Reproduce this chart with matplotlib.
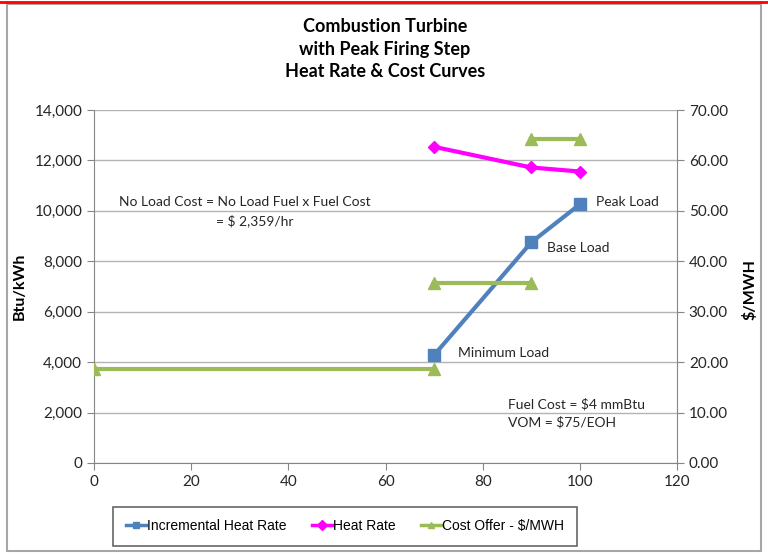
import numpy as np
import matplotlib
matplotlib.use('Agg')
import matplotlib.pyplot as plt
from matplotlib.patches import Rectangle
from matplotlib.lines import Line2D
from matplotlib.ticker import FuncFormatter

# load (MW %) and values
load_hr = [70, 90, 100]
incr_heat_rate = [4280, 8750, 10260]      # Btu/kWh, left axis
heat_rate_cost = [62.7, 58.6, 57.8]       # right axis

cost_x = [0, 70, np.nan, 70, 90, np.nan, 90, 100]
cost_offer = [18.6, 18.6, np.nan, 35.6, 35.6, np.nan, 64.2, 64.2]  # $/MWH

x_ticks = [0, 20, 40, 60, 80, 100, 120]
left_ticks = [0, 2000, 4000, 6000, 8000, 10000, 12000, 14000]
right_ticks = [0, 10, 20, 30, 40, 50, 60, 70]

plt.rcParams['font.family'] = ['Lato', 'DejaVu Sans']

W, H = 768, 556
fig = plt.figure(figsize=(W / 100, H / 100), dpi=100)

# outer frame like the spreadsheet chart area
fig.add_artist(Rectangle((7 / W, 1 - 551 / H), 754 / W, 547 / H, transform=fig.transFigure,
                         fill=False, edgecolor='#a6a6a6', lw=1.5))
fig.add_artist(Line2D([0, 1], [1 - 2 / H, 1 - 2 / H], transform=fig.transFigure, color='red', lw=2))

ax = fig.add_axes([94 / W, 1 - 463 / H, 583 / W, 353 / H])
ax2 = ax.twinx()

grey = '#868686'
for a in (ax, ax2):
    for s in a.spines.values():
        s.set_color(grey)
    a.spines['top'].set_visible(False)
    a.tick_params(colors=grey, labelcolor='#262626', labelsize=11, length=5)
ax.spines['right'].set_visible(False)
ax2.spines['left'].set_visible(False)
ax2.spines['bottom'].set_visible(False)

ax.set_xlim(0, 120)
ax.set_ylim(0, 14000)
ax2.set_ylim(0, 70)
ax.set_xticks(x_ticks)
ax.set_yticks(left_ticks)
ax2.set_yticks(right_ticks)
ax.yaxis.set_major_formatter(FuncFormatter(lambda v, p: f'{v:,.0f}'))
ax2.yaxis.set_major_formatter(FuncFormatter(lambda v, p: f'{v:.2f}'))
ax.grid(axis='y', color='#b3b3b3', lw=1)
ax.set_axisbelow(True)

l1, = ax.plot(load_hr, incr_heat_rate, color='#4f81bd', lw=3, marker='s', ms=9,
              label='Incremental Heat Rate', zorder=3)
l2, = ax2.plot(load_hr, heat_rate_cost, color='#ff00ff', lw=3, marker='D', ms=6,
               label='Heat Rate', zorder=3)
l3, = ax2.plot(cost_x, cost_offer, color='#9bbb59', lw=3, marker='^', ms=9,
               label='Cost Offer - $/MWH', zorder=3)

ax.set_ylabel('Btu/kWh', fontsize=11.5, fontweight='bold')
ax2.set_ylabel('$/MWH', fontsize=11.5, fontweight='bold', rotation=90)
ax.yaxis.set_label_coords(-0.115, 0.5)
ax2.yaxis.set_label_coords(1.112, 0.49)

txt = dict(fontsize=10, color='#262626')
ax.text(31, 10360, 'No Load Cost = No Load Fuel x Fuel Cost', ha='center', va='center', **txt)
ax.text(33, 9620, '= $ 2,359/hr', ha='center', va='center', **txt)
ax.text(103.3, 10360, 'Peak Load', ha='left', va='center', **txt)
ax.text(93.3, 8540, 'Base Load', ha='left', va='center', **txt)
ax.text(75, 4380, 'Minimum Load', ha='left', va='center', **txt)
ax.text(85.3, 2320, 'Fuel Cost = $4 mmBtu', ha='left', va='center', **txt)
ax.text(85.3, 1610, 'VOM = $75/EOH', ha='left', va='center', **txt)

fig.text(385 / W, 1 - 49 / H, 'Combustion Turbine\nwith Peak Firing Step\nHeat Rate & Cost Curves',
         ha='center', va='center', fontsize=13, fontweight='bold', linespacing=1.4)

leg = fig.legend(handles=[l1, l2, l3], loc='center', ncol=3,
                 bbox_to_anchor=(345 / W, 1 - 526 / H), frameon=True, fancybox=False,
                 edgecolor='#404040', handlelength=1.5, handletextpad=0.05, columnspacing=1.8,
                 borderpad=0.9, borderaxespad=0, prop={'family': 'Liberation Sans', 'size': 10})
leg.get_frame().set_linewidth(1.2)
for h in leg.legend_handles:
    h.set_linewidth(2.5)
    h.set_markersize(5)

fig.savefig('out.png', dpi=100)
